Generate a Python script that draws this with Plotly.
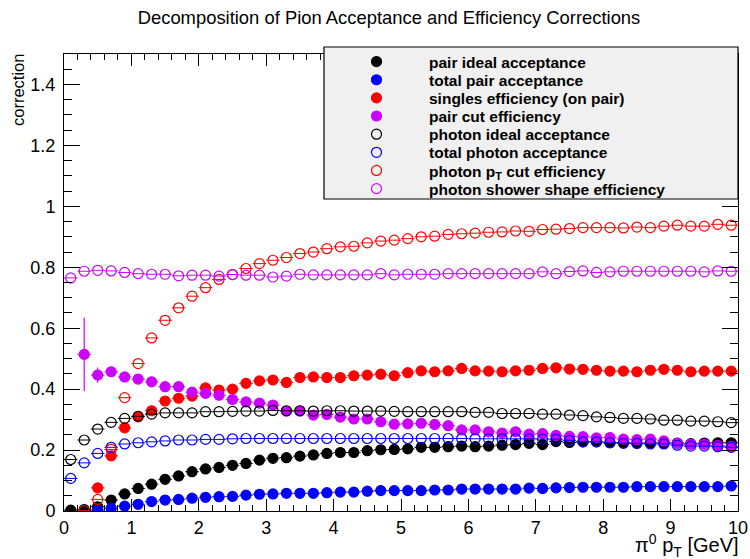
import plotly.graph_objects as go

# pT bin centres [GeV] (bins of 0.2 GeV)
pt = [0.1, 0.3, 0.5, 0.7, 0.9, 1.1, 1.3, 1.5, 1.7, 1.9,
      2.1, 2.3, 2.5, 2.7, 2.9, 3.1, 3.3, 3.5, 3.7, 3.9,
      4.1, 4.3, 4.5, 4.7, 4.9, 5.1, 5.3, 5.5, 5.7, 5.9,
      6.1, 6.3, 6.5, 6.7, 6.9, 7.1, 7.3, 7.5, 7.7, 7.9,
      8.1, 8.3, 8.5, 8.7, 8.9, 9.1, 9.3, 9.5, 9.7, 9.9]

pair_ideal_acc = [0.003, 0.005, 0.014, 0.036, 0.056, 0.074, 0.088, 0.104, 0.115, 0.129,
                  0.138, 0.143, 0.150, 0.156, 0.167, 0.173, 0.175, 0.180, 0.184, 0.189,
                  0.192, 0.192, 0.198, 0.201, 0.202, 0.204, 0.209, 0.209, 0.211, 0.213,
                  0.211, 0.213, 0.216, 0.218, 0.222, 0.218, 0.228, 0.225, 0.227, 0.227,
                  0.224, 0.224, 0.222, 0.224, 0.223, 0.223, 0.221, 0.223, 0.224, 0.224]

total_pair_acc = [None, None, 0.003, 0.009, 0.016, 0.022, 0.031, 0.036, 0.038, 0.042,
                  0.045, 0.047, 0.048, 0.052, 0.055, 0.056, 0.058, 0.058, 0.058, 0.060,
                  0.062, 0.062, 0.065, 0.067, 0.067, 0.067, 0.067, 0.069, 0.069, 0.072,
                  0.072, 0.072, 0.072, 0.072, 0.075, 0.074, 0.076, 0.077, 0.078, 0.078,
                  0.078, 0.078, 0.080, 0.080, 0.080, 0.080, 0.080, 0.080, 0.080, 0.082]

singles_eff = [None, None, 0.076, 0.181, 0.273, 0.309, 0.329, 0.361, 0.370, 0.377,
               0.404, 0.397, 0.400, 0.419, 0.427, 0.430, 0.422, 0.438, 0.440, 0.438,
               0.438, 0.444, 0.446, 0.449, 0.444, 0.454, 0.460, 0.457, 0.460, 0.468,
               0.460, 0.459, 0.457, 0.460, 0.462, 0.468, 0.470, 0.466, 0.465, 0.462,
               0.459, 0.459, 0.457, 0.462, 0.465, 0.462, 0.457, 0.459, 0.459, 0.459]

pair_cut_eff = [None, 0.514, 0.446, 0.457, 0.440, 0.433, 0.424, 0.408, 0.408, 0.390,
                0.386, 0.380, 0.366, 0.358, 0.354, 0.348, 0.328, 0.328, 0.315, 0.317,
                0.308, 0.302, 0.302, 0.293, 0.285, 0.286, 0.288, 0.284, 0.280, 0.266,
                0.266, 0.260, 0.256, 0.260, 0.252, 0.254, 0.248, 0.245, 0.244, 0.240,
                0.241, 0.236, 0.234, 0.236, 0.230, 0.222, 0.219, 0.219, 0.215, 0.212]

pair_cut_err = [0.0, 0.120, 0.025, 0.012, 0.006, 0.005, 0.005, 0.004, 0.004, 0.004,
                0.004, 0.004, 0.004, 0.004, 0.004, 0.004, 0.004, 0.004, 0.004, 0.004,
                0.004, 0.004, 0.004, 0.004, 0.004, 0.004, 0.004, 0.004, 0.004, 0.004,
                0.004, 0.004, 0.004, 0.004, 0.004, 0.004, 0.004, 0.004, 0.004, 0.004,
                0.004, 0.004, 0.004, 0.004, 0.004, 0.004, 0.004, 0.004, 0.004, 0.004]

photon_ideal_acc = [0.169, 0.233, 0.269, 0.291, 0.304, 0.311, 0.318, 0.322, 0.322, 0.322,
                    0.326, 0.326, 0.327, 0.328, 0.328, 0.330, 0.329, 0.329, 0.328, 0.329,
                    0.329, 0.328, 0.328, 0.328, 0.327, 0.326, 0.326, 0.326, 0.326, 0.326,
                    0.324, 0.324, 0.320, 0.320, 0.320, 0.318, 0.318, 0.315, 0.313, 0.309,
                    0.307, 0.304, 0.304, 0.302, 0.298, 0.298, 0.295, 0.295, 0.293, 0.290]

total_photon_acc = [0.107, 0.158, 0.189, 0.209, 0.220, 0.224, 0.227, 0.230, 0.233, 0.233,
                    0.235, 0.235, 0.237, 0.238, 0.238, 0.238, 0.238, 0.238, 0.238, 0.238,
                    0.238, 0.238, 0.238, 0.238, 0.238, 0.238, 0.238, 0.238, 0.238, 0.238,
                    0.237, 0.237, 0.237, 0.237, 0.237, 0.236, 0.236, 0.232, 0.227, 0.227,
                    0.224, 0.222, 0.222, 0.220, 0.220, 0.216, 0.213, 0.213, 0.211, 0.209]

photon_pt_eff = [None, 0.001, 0.038, 0.202, 0.372, 0.484, 0.568, 0.626, 0.667, 0.705,
                 0.733, 0.760, 0.776, 0.796, 0.812, 0.823, 0.832, 0.845, 0.850, 0.861,
                 0.867, 0.869, 0.880, 0.886, 0.889, 0.894, 0.900, 0.902, 0.908, 0.910,
                 0.912, 0.915, 0.916, 0.919, 0.918, 0.924, 0.925, 0.927, 0.930, 0.930,
                 0.930, 0.929, 0.932, 0.930, 0.935, 0.938, 0.935, 0.935, 0.941, 0.938]

photon_shower_eff = [0.765, 0.787, 0.790, 0.788, 0.783, 0.779, 0.777, 0.777, 0.772, 0.774,
                     0.774, 0.771, 0.776, 0.774, 0.774, 0.768, 0.771, 0.777, 0.775, 0.775,
                     0.775, 0.775, 0.775, 0.779, 0.775, 0.777, 0.777, 0.777, 0.779, 0.779,
                     0.779, 0.779, 0.779, 0.779, 0.779, 0.785, 0.779, 0.786, 0.788, 0.783,
                     0.785, 0.787, 0.787, 0.787, 0.787, 0.787, 0.787, 0.785, 0.788, 0.787]

bin_half_width = 0.1
VIOLET = "#cc00ff"

series = [
    ("pair ideal acceptance", pair_ideal_acc, "black", "circle", None),
    ("total pair acceptance", total_pair_acc, "#0000ff", "circle", None),
    ("singles efficiency (on pair)", singles_eff, "#ff0000", "circle", None),
    ("pair cut efficiency", pair_cut_eff, VIOLET, "circle", pair_cut_err),
    ("photon ideal acceptance", photon_ideal_acc, "black", "circle-open", None),
    ("total photon acceptance", total_photon_acc, "#0000ff", "circle-open", None),
    ("photon p<sub>T</sub> cut efficiency", photon_pt_eff, "#ff0000", "circle-open", None),
    ("photon shower shape efficiency", photon_shower_eff, VIOLET, "circle-open", None),
]

FONT = "Liberation Sans, Arial, Helvetica, sans-serif"

# plot-area geometry in pixels
L, R, T, B = 64, 738, 54, 511
W, H = R - L, B - T


def px_x(p):
    return (p - L) / W


def px_y(p):
    return (B - p) / H


# legend box and row layout (one legend per entry so rows can be packed tightly)
BOX_L, BOX_R, BOX_T, BOX_B = 324, 738, 47, 199
ROW0, ROW_STEP = 62, 18.15

fig = go.Figure()
legend_layouts = {}
for i, (name, vals, color, symbol, yerr) in enumerate(series):
    lg = "legend" if i == 0 else f"legend{i + 1}"
    fig.add_trace(go.Scatter(
        x=pt, y=vals, name=name, mode="markers", legend=lg,
        marker=dict(symbol=symbol, size=10, color=color,
                    line=dict(color=color, width=1.2)),
        error_x=dict(type="constant", value=bin_half_width, color=color,
                     thickness=1, width=0),
        error_y=(dict(type="data", array=yerr, color=color, thickness=1.2, width=0)
                 if yerr is not None else dict(visible=False)),
    ))
    legend_layouts[lg] = dict(
        x=px_x(BOX_L), xanchor="left",
        y=px_y(ROW0 + ROW_STEP * i), yanchor="middle",
        bgcolor="rgba(0,0,0,0)", borderwidth=0,
        itemwidth=95, itemsizing="trace",
        font=dict(family=FONT, size=15.5, color="black", weight="bold"),
    )

fig.update_layout(
    width=750, height=559,
    margin=dict(l=L, r=750 - R, t=T, b=559 - B, autoexpand=False),
    paper_bgcolor="white", plot_bgcolor="white",
    font=dict(family=FONT, color="black", size=16),
    title=dict(text="Decomposition of Pion Acceptance and Efficiency Corrections",
               x=389 / 750, xanchor="center", xref="container",
               y=1 - 18 / 559, yanchor="middle", yref="container",
               font=dict(family=FONT, size=18.4, color="black")),
    showlegend=True,
    xaxis=dict(range=[0, 10], dtick=1, tick0=0, ticks="inside", ticklen=12,
               tickwidth=1, tickcolor="black", showline=True, linecolor="black",
               linewidth=1, mirror="ticks", showgrid=False, zeroline=False,
               tickfont=dict(family=FONT, size=18, color="black"),
               minor=dict(dtick=0.2, ticks="inside", ticklen=6, tickcolor="black",
                          tickwidth=1, showgrid=False)),
    yaxis=dict(range=[0, 1.5], dtick=0.2, tick0=0, ticks="inside", ticklen=16,
               tickwidth=1, tickcolor="black", showline=True, linecolor="black",
               linewidth=1, mirror="ticks", showgrid=False, zeroline=False,
               ticklabelstandoff=4,
               tickfont=dict(family=FONT, size=18, color="black"),
               minor=dict(dtick=0.05, ticks="inside", ticklen=8, tickcolor="black",
                          tickwidth=1, showgrid=False)),
    shapes=[dict(type="rect", xref="paper", yref="paper",
                 x0=px_x(BOX_L), x1=px_x(BOX_R), y0=px_y(BOX_B), y1=px_y(BOX_T),
                 fillcolor="#f0f0f0", line=dict(color="black", width=1.2),
                 layer="above")],
    annotations=[
        dict(text="correction", xref="paper", yref="paper",
             x=px_x(18), y=px_y(90), xanchor="center", yanchor="middle",
             textangle=-90, showarrow=False,
             font=dict(family=FONT, size=16.5, color="black")),
        dict(text="\u03c0<sup>0</sup> p<sub>T</sub> [GeV]", xref="paper", yref="paper",
             x=px_x(741), y=px_y(545), xanchor="right", yanchor="middle",
             showarrow=False, font=dict(family=FONT, size=20, color="black")),
    ],
    **legend_layouts,
)

fig.write_html("out.html")
